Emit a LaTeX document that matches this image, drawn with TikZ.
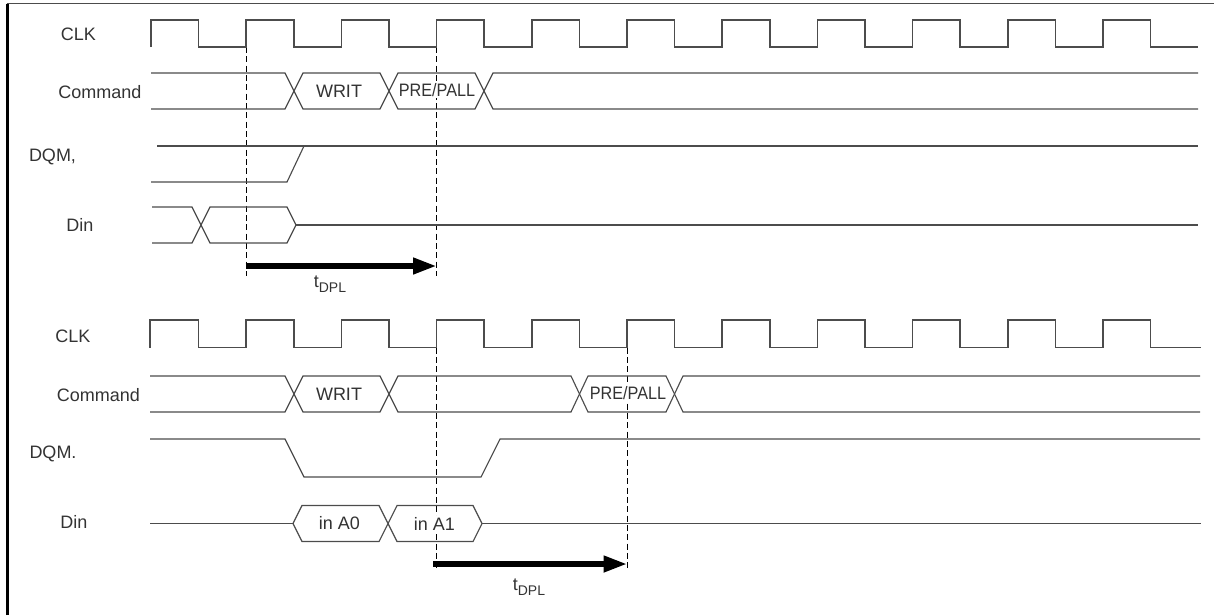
\documentclass[tikz,border=0pt]{standalone}
\usepackage{fontspec}
\setmainfont{Liberation Sans}
\usetikzlibrary{arrows.meta}
\definecolor{wave}{rgb}{0.3,0.3,0.3}
\definecolor{ink}{rgb}{0.2,0.2,0.2}
\newcommand{\tdplname}{t\raisebox{-3.4pt}{\fontsize{10.5}{12}\selectfont DPL}}

\begin{document}
\begin{tikzpicture}[x=0.75pt,y=0.75pt,yscale=-1,xscale=1,
	every node/.style={font=\fontsize{13.5}{16}\selectfont,text=ink},
	wire/.style={draw=wave,line width=0.85pt},
	guide/.style={draw=black,line width=0.7pt,dash pattern=on 4.5pt off 2.5pt},
	tdpl/.style={line width=5pt,-{Triangle[length=18pt,width=11.5pt]}},
	bustext/.style={fill=white,inner sep=1pt}]
			\useasboundingbox (0,0) rectangle (1214,615);
			\draw[line width=2pt] (7.5,615) -- (7.5,3.5);
			\draw[wave,line width=1.1pt] (6.5,3.5) -- (1214,3.5);
			
			\draw[guide] (246,47) -- (246,276);
			\draw[guide] (436.5,47) -- (436.5,276);
			\draw[guide] (436.5,347.5) -- (436.5,568);
			\draw[guide] (627,347.5) -- (627,568);
			
			\draw[wire] (151,47) |- (198.5,20) |- (246,47) |- (294,20) |- (341.5,47) |- (389,20) |- (436.5,47) |- (484,20) |- (532,47) |- (579.5,20) |- (627,47) |- (674.5,20) |- (722,47) |- (770,20) |- (817.5,47) |- (865,20) |- (912.5,47) |- (960,20) |- (1008,47) |- (1055.5,20) |- (1103,47) |- (1150.5,20) |- (1198,47);
			\draw[wire] (151,73) -- (285,73) -- (303,109) -- (380,109) -- (398,73) -- (475,73) -- (493,109) -- (1198,109);
			\draw[wire] (151,109) -- (285,109) -- (303,73) -- (380,73) -- (398,109) -- (475,109) -- (493,73) -- (1198,73);
			\draw[wire] (157,146) -- (1198,146);
			\draw[wire] (151,182) -- (287,182) -- (304,146);
			\draw[wire] (152,207) -- (192,207) -- (210,243) -- (287,243) -- (296,225) -- (287,207) -- (210,207) -- (192,243) -- (152,243);
			\draw[wire] (296,225) -- (1198,225);
			
			\draw[wire] (150,347.5) |- (198.5,320) |- (246,347.5) |- (294,320) |- (341.5,347.5) |- (389,320) |- (436.5,347.5) |- (484,320) |- (532,347.5) |- (579.5,320) |- (627,347.5) |- (674.5,320) |- (722,347.5) |- (770,320) |- (817.5,347.5) |- (865,320) |- (912.5,347.5) |- (960,320) |- (1008,347.5) |- (1055.5,320) |- (1103,347.5) |- (1150.5,320) |- (1201,347.5);
			\draw[wire] (150,376) -- (285,376) -- (303,412) -- (380,412) -- (398,376) -- (571,376) -- (588,412) -- (666,412) -- (683,376) -- (1200,376);
			\draw[wire] (150,412) -- (285,412) -- (303,376) -- (380,376) -- (398,412) -- (571,412) -- (588,376) -- (666,376) -- (683,412) -- (1200,412);
			\draw[wire] (150,439) -- (285,439) -- (304,477) -- (481,477) -- (500,439) -- (1200,439);
			\draw[wire] (150,523.5) -- (293,523.5);
			\draw[wire] (293,523.5) -- (302,505.5) -- (379,505.5) -- (397,541.5) -- (473,541.5) -- (482,523.5) -- (473,505.5) -- (397,505.5) -- (379,541.5) -- (302,541.5) -- cycle;
			\draw[wire] (482,523.5) -- (1201,523.5);
			
			\coordinate (sA) at (245.5,266);
			\coordinate (eA) at (437,266);
			\coordinate (sB) at (433,564);
			\coordinate (eB) at (627.5,564);
			\draw[tdpl] (sA) -- (eA);
			\draw[tdpl] (sB) -- (eB);
			
			\node (clkA) at (78.5,34) {CLK};
			\node (cmdA) at (100,92) {Command};
			\node (dqmA) at (52.5,157) {DQM,};
			\node (dinA) at (80,225) {Din};
			\node[bustext] (writA) at (339,91) {WRIT};
			\node[bustext] (preA) at (437,90) {\scalebox{0.9}[1]{PRE/PALL}};
			\node (tA) at (330,284) {\tdplname};
			
			\node (clkB) at (73,336) {CLK};
			\node (cmdB) at (98.5,395) {Command};
			\node (dqmB) at (53,454) {DQM.};
			\node (dinB) at (74,522) {Din};
			\node[bustext] (writB) at (339,394) {WRIT};
			\node[bustext] (preB) at (628,393) {\scalebox{0.9}[1]{PRE/PALL}};
			\node[bustext] (inAzero) at (339.5,523.5) {in A0};
			\node[bustext] (inAone) at (434.5,523.5) {in A1};
			\node (tB) at (529,587) {\tdplname};
\end{tikzpicture}
\end{document}
